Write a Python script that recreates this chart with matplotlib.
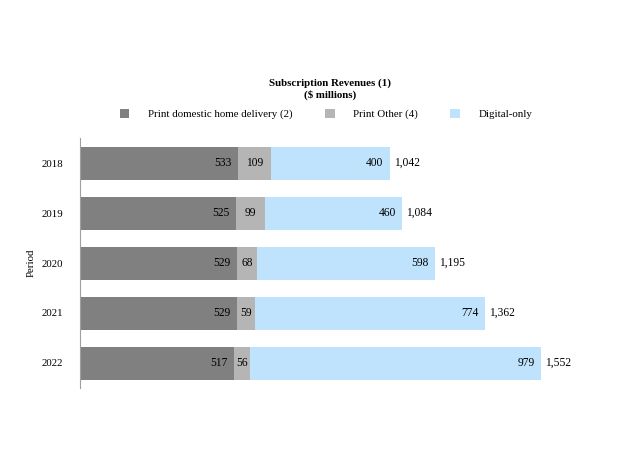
import numpy as np
import matplotlib.pyplot as plt

plt.rcParams["font.family"] = ["Liberation Serif", "DejaVu Serif"]
plt.rcParams["font.size"] = 7.8

years = ["2018", "2019", "2020", "2021", "2022"]
print_home = [533, 525, 529, 529, 517]
print_other = [109, 99, 68, 59, 56]
digital = [400, 460, 598, 774, 979]
totals = [1042, 1084, 1195, 1362, 1552]

series_names = ["Print domestic home delivery (2)", "Print Other (4)", "Digital-only"]
colors = ["#808080", "#b5b5b5", "#bfe3fc"]
label_size = 8.3

fig = plt.figure(figsize=(6.3, 4.68), dpi=100)
ax = fig.add_axes([80 / 630, 80 / 468, 500 / 630, 250 / 468])

y = np.arange(len(years))
home = np.array(print_home)
other = np.array(print_other)
dig = np.array(digital)

ax.barh(y, home, height=0.66, color=colors[0], label=series_names[0])
b2 = ax.barh(y, other, left=home, height=0.66, color=colors[1], label=series_names[1])
ax.barh(y, dig, left=home + other, height=0.66, color=colors[2], label=series_names[2])

# labels inside the segments
ax.bar_label(b2, labels=[str(v) for v in print_other], label_type="center", fontsize=label_size)
for yi in y:
    ax.annotate(str(print_home[yi]), (home[yi], yi), xytext=(-4.5, 0),
                textcoords="offset points", ha="right", va="center", fontsize=label_size)
    end = home[yi] + other[yi] + dig[yi]
    ax.annotate(str(digital[yi]), (end, yi), xytext=(-4.5, 0),
                textcoords="offset points", ha="right", va="center", fontsize=label_size)
    ax.annotate(f"{totals[yi]:,}", (end, yi), xytext=(3.2, 0),
                textcoords="offset points", ha="left", va="center", fontsize=label_size)

ax.set_yticks(y)
ax.set_yticklabels(years)
ax.set_ylim(4.5, -0.5)
ax.set_xlim(0, 1683)
ax.set_xticks([])
ax.tick_params(axis="y", length=0, pad=12)
ax.set_ylabel("Period", labelpad=4)
for side in ["top", "right", "bottom"]:
    ax.spines[side].set_visible(False)
ax.spines["left"].set_color("#a0a0a0")

fig.text(330 / 630, 1 - 83 / 468, "Subscription Revenues (1)", ha="center", va="center",
         fontweight="bold")
fig.text(330 / 630, 1 - 95 / 468, "($ millions)", ha="center", va="center",
         fontweight="bold")
fig.legend(loc="center", bbox_to_anchor=(326 / 630, 1 - 114 / 468), ncol=3, frameon=False,
           handlelength=0.9, handleheight=0.9, handletextpad=1.7, columnspacing=3.0)

fig.savefig("out.png", dpi=100)
